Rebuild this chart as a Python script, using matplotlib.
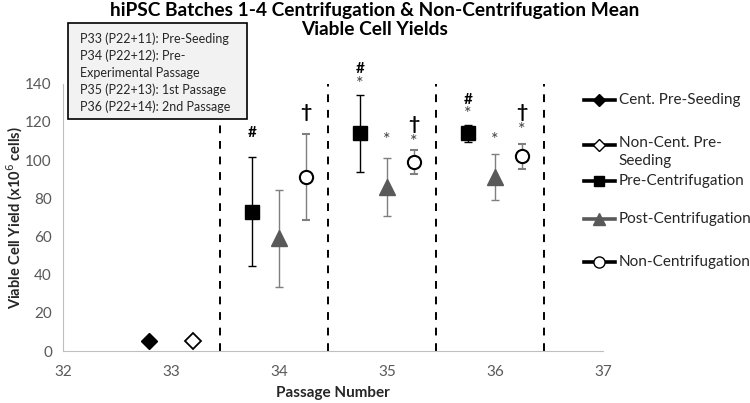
import matplotlib
matplotlib.use("Agg")
import matplotlib.pyplot as plt
from matplotlib.lines import Line2D
from matplotlib.patches import Rectangle

plt.rcParams['font.family'] = ['Lato', 'DejaVu Sans']

# pre-seeding points (P33)
cent_pre_x = [32.8]
cent_pre_y = [5]
noncent_pre_x = [33.2]
noncent_pre_y = [5]

# passages 34-36
pre_x = [33.75, 34.75, 35.75]
pre_y = [73, 114, 114]
pre_err = [28.5, 20, 4.5]

post_x = [34.0, 35.0, 36.0]
post_y = [59, 86, 91]
post_err = [25.5, 15, 12]

non_x = [34.25, 35.25, 36.25]
non_y = [91, 99, 102]
non_err = [22.5, 6.5, 6.5]

# significance symbols (placed by hand in the original)
sig_text = ['#', '\u2020',
            '*', '#', '*', '*', '\u2020',
            '*', '#', '*', '*', '\u2020']
sig_x = [33.75, 34.25,
         34.75, 34.75, 35.0, 35.25, 35.25,
         35.75, 35.75, 36.0, 36.25, 36.25]
sig_y = [114, 125,
         140, 148, 110.5, 109.5, 118.5,
         124, 131.5, 110.5, 116, 125]

dividers = [33.45, 34.45, 35.45, 36.45]

legend_labels = ['Cent. Pre-Seeding', 'Non-Cent. Pre-\nSeeding', 'Pre-Centrifugation',
                 'Post-Centrifugation', 'Non-Centrifugation']

box_text = ("P33 (P22+11): Pre-Seeding\nP34 (P22+12): Pre-\nExperimental Passage\n"
            "P35 (P22+13): 1st Passage\nP36 (P22+14): 2nd Passage")

fig = plt.figure(figsize=(7.5, 4.03), dpi=100)
ax = fig.add_axes([0.084, 0.129, 0.72, 0.663])

for d in dividers:
    ax.axvline(d, color='black', ls=(0, (4, 4)), lw=1.4, zorder=1)

ax.plot(cent_pre_x, cent_pre_y, 'D', ms=8, mfc='black', mec='black', zorder=3)
ax.plot(noncent_pre_x, noncent_pre_y, 'D', ms=8, mfc='white', mec='black', mew=1.3, zorder=3)

ax.errorbar(pre_x, pre_y, yerr=pre_err, fmt='s', ms=9.5, mfc='black', mec='black',
            ecolor='black', elinewidth=1, capsize=3, capthick=1, zorder=3)
ax.errorbar(post_x, post_y, yerr=post_err, fmt='^', ms=11, mfc='#595959', mec='#595959',
            ecolor='#7f7f7f', elinewidth=1, capsize=3, capthick=1, zorder=3)
ax.errorbar(non_x, non_y, yerr=non_err, fmt='o', ms=9.5, mfc='white', mec='black', mew=1.5,
            ecolor='#7f7f7f', elinewidth=1, capsize=3, capthick=1, zorder=3)

for s, x, y in zip(sig_text, sig_x, sig_y):
    if s == '*':
        ax.text(x, y, s, ha='center', va='center', fontsize=13, color='#404040')
    elif s == '#':
        ax.text(x, y, s, ha='center', va='center', fontsize=11, fontweight='bold')
    else:
        ax.text(x, y, s, ha='center', va='center', fontsize=14, fontweight='bold')

ax.set_xlim(32, 37)
ax.set_ylim(0, 140)
ax.set_xticks([32, 33, 34, 35, 36, 37])
ax.set_yticks(range(0, 141, 20))
ax.tick_params(length=0, labelsize=11, colors='#595959')
ax.tick_params(axis='x', pad=10)
ax.tick_params(axis='y', pad=8)
for s in ['top', 'right']:
    ax.spines[s].set_visible(False)
for s in ['left', 'bottom']:
    ax.spines[s].set_color('#bfbfbf')
ax.set_xlabel('Passage Number', fontsize=11, fontweight='bold', color='#262626', labelpad=5)
ax.set_ylabel('Viable Cell Yield (x10$^{6}$ cells)', fontsize=10.5, fontweight='bold',
              color='#262626')
ax.yaxis.set_label_coords(-0.07, 0.5)

fig.text(0.5, 0.995, 'hiPSC Batches 1-4 Centrifugation & Non-Centrifugation Mean\nViable Cell Yields',
         ha='center', va='top', fontsize=13.8, fontweight='bold', linespacing=1.15)

# text box
fig.add_artist(Rectangle((0.0907, 0.7047), 0.2387, 0.2382, transform=fig.transFigure,
                         fc='#f2f2f2', ec='black', lw=1.2, zorder=5))
fig.text(0.1067, 0.92, box_text, fontsize=9, va='top', ha='left', linespacing=1.45,
         color='#262626', zorder=6)

# legend drawn by hand to match the layout
styles = [dict(marker='D', ms=6, mfc='black', mec='black', color='black'),
          dict(marker='D', ms=6, mfc='white', mec='black', color='black'),
          dict(marker='s', ms=7, mfc='black', mec='black', color='black'),
          dict(marker='^', ms=8, mfc='#595959', mec='#595959', color='#595959'),
          dict(marker='o', ms=8, mfc='white', mec='black', color='black')]
leg_y = [0.752, 0.64, 0.552, 0.457, 0.35]
for lab, st, yy in zip(legend_labels, styles, leg_y):
    fig.add_artist(Line2D([0.778, 0.799, 0.82], [yy, yy, yy], lw=2.6,
                          transform=fig.transFigure, markevery=[1], **st))
    if '\n' in lab:
        fig.text(0.825, yy + 0.022, lab, fontsize=11, va='top', ha='left',
                 color='#262626', linespacing=1.35)
    else:
        fig.text(0.825, yy, lab, fontsize=11, va='center', ha='left', color='#262626')

fig.savefig('out.png', dpi=100)
